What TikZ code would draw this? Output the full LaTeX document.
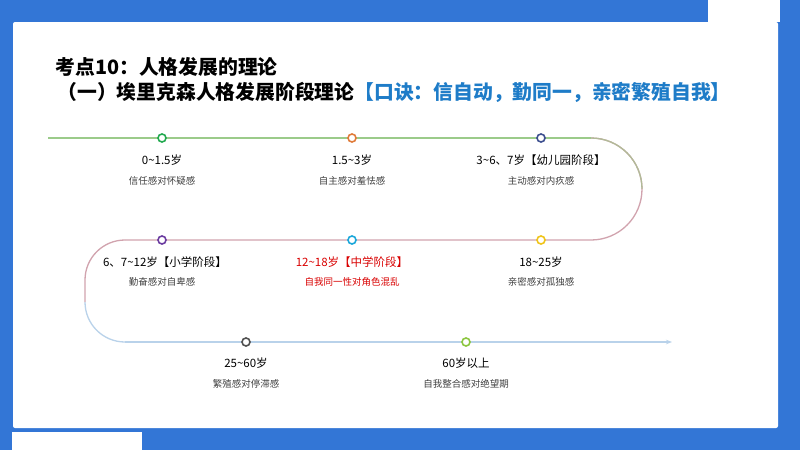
\documentclass[tikz,border=0pt]{standalone}
\usepackage{fontspec}
\setmainfont{Noto Sans CJK SC}
\usetikzlibrary{arrows.meta}
\definecolor{bgblue}{HTML}{3376D6}
\definecolor{tblue}{HTML}{1E7CC8}
\definecolor{c1}{HTML}{22A94F}\definecolor{c2}{HTML}{E07B39}\definecolor{c3}{HTML}{3D4F8F}
\definecolor{c4}{HTML}{6A3BA0}\definecolor{c5}{HTML}{1AA7DA}\definecolor{c6}{HTML}{F0C419}
\definecolor{c7}{HTML}{505050}\definecolor{c8}{HTML}{8CC63F}
\definecolor{l1}{HTML}{9BCB8A}\definecolor{l2}{HTML}{D1A3AE}\definecolor{l3}{HTML}{B9D2EA}
\begin{document}
\begin{tikzpicture}[x=1pt,y=-1pt,
  dot/.style={circle,draw=#1,line width=1.6pt,fill=white,minimum size=8pt,inner sep=0pt},
  age/.style={font=\fontsize{11.5}{13}\selectfont},
  desc/.style={font=\fontsize{9.5}{11}\selectfont,text=black!75}]
\useasboundingbox (0,0) rectangle (800,450);
\fill[bgblue] (0,0) rectangle (800,450);
\fill[white] (708,0) rectangle (780,22);
\fill[white,rounded corners=2pt] (13,22) rectangle (778,428);
\fill[white] (12,432) rectangle (142,450);
\node[anchor=west,font=\bfseries\fontsize{19.8}{21}\selectfont] (t1) at (52,67) {考点10：人格发展的理论};
\node[anchor=west,font=\bfseries\fontsize{19.8}{21}\selectfont] (t2) at (54,92) {（一）埃里克森人格发展阶段理论\textcolor{tblue}{【口诀：信自动，勤同一，亲密繁殖自我】}};
% path
\draw[l1,line width=1.3pt] (48,138) -- (591,138);
\draw[line width=1.3pt,l2] (591,138) arc[start angle=-90,end angle=90,radius=51] -- (125,240);
\draw[line width=1.3pt,l1!60!l2] (591,138) arc[start angle=-90,end angle=0,radius=51];
\draw[line width=1.3pt,l2] (125,240) arc[start angle=-90,end angle=-180,radius=40] -- (85,302);
\draw[line width=1.3pt,l3] (85,302) arc[start angle=180,end angle=90,radius=40];
\draw[line width=1.3pt,l3,-{Stealth[length=6pt]}] (125,342) -- (672,342);
\node[dot=c1] (n1) at (162,138) {};
\node[dot=c2] (n2) at (352,138) {};
\node[dot=c3] (n3) at (541,138) {};
\node[dot=c4] (n4) at (162,240) {};
\node[dot=c5] (n5) at (352,240) {};
\node[dot=c6] (n6) at (541,240) {};
\node[dot=c7] (n7) at (246,342) {};
\node[dot=c8] (n8) at (466,342) {};
\node[age] (a1) at (162,160) {0\textasciitilde1.5岁};
\node[desc] (d1) at (162,181) {信任感对怀疑感};
\node[age] (a2) at (352,160) {1.5\textasciitilde3岁};
\node[desc] (d2) at (352,181) {自主感对羞怯感};
\node[age] (a3) at (541,160) {3\textasciitilde6、7岁【幼儿园阶段】};
\node[desc] (d3) at (541,181) {主动感对内疚感};
\node[age] (a4) at (165,262) {6、7\textasciitilde12岁【小学阶段】};
\node[desc] (d4) at (162,282) {勤奋感对自卑感};
\node[age,text=red!85!black] (a5) at (352,262) {12\textasciitilde18岁【中学阶段】};
\node[desc,text=red!85!black] (d5) at (352,282) {自我同一性对角色混乱};
\node[age] (a6) at (541,262) {18\textasciitilde25岁};
\node[desc] (d6) at (541,282) {亲密感对孤独感};
\node[age] (a7) at (246,363) {25\textasciitilde60岁};
\node[desc] (d7) at (246,384) {繁殖感对停滞感};
\node[age] (a8) at (466,363) {60岁以上};
\node[desc] (d8) at (466,384) {自我整合感对绝望期};
\end{tikzpicture}
\end{document}
